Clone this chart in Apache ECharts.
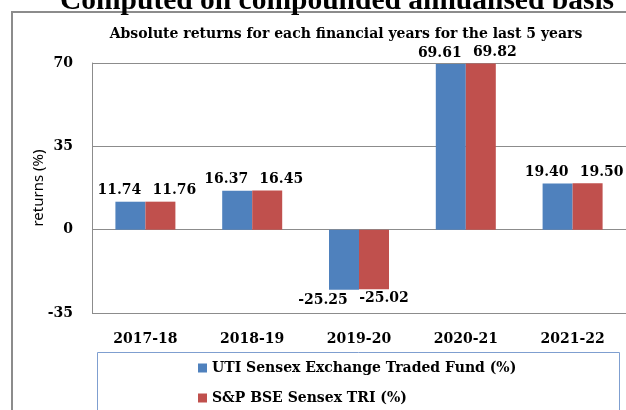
<!DOCTYPE html>
<html>
<head>
<meta charset="utf-8">
<script src="https://cdn.jsdelivr.net/npm/echarts@6/dist/echarts.min.js"></script>
<style>
  html, body { margin: 0; padding: 0; background: #fff; }
  #chart { width: 626px; height: 410px; }
</style>
</head>
<body>
<div id="chart"></div>
<script>
  var years = ['2017-18', '2018-19', '2019-20', '2020-21', '2021-22'];
  var fundReturns = [11.74, 16.37, -25.25, 69.61, 19.40];
  var indexReturns = [11.76, 16.45, -25.02, 69.82, 19.50];
  var seriesNames = ['UTI Sensex Exchange Traded Fund (%)', 'S&P BSE Sensex TRI (%)'];

  var serif = '"DejaVu Serif", serif';
  var legendText = { fontFamily: serif, fontWeight: 'bold', fontSize: 14, color: '#000' };

  // label nudges, like the Excel chart
  function items(values, posOff, negOff) {
    return values.map(function (v) {
      return {
        value: v,
        label: { offset: v < 0 ? negOff : posOff }
      };
    });
  }

  var chart = echarts.init(document.getElementById('chart'));
  chart.setOption({
    animation: false,
    title: [{
      text: 'Computed on compounded annualised basis',
      left: 332,
      top: -19,
      textAlign: 'center',
      textStyle: { fontFamily: '"Liberation Serif", serif', fontWeight: 'bold', fontSize: 29.5, color: '#000' }
    }, {
      text: 'Absolute returns for each financial years for the last 5 years',
      left: 341,
      top: 22,
      textAlign: 'center',
      textStyle: { fontFamily: serif, fontWeight: 'bold', fontSize: 14, color: '#000' }
    }],
    graphic: [{
      type: 'rect',
      shape: { x: 12, y: 12, width: 640, height: 420 },
      style: { fill: 'none', stroke: '#8c8c8c', lineWidth: 2 },
      z: -1
    }, {
      type: 'rect',
      shape: { x: 97.5, y: 352.5, width: 522, height: 80 },
      style: { fill: 'none', stroke: '#7f9fd0', lineWidth: 1 },
      z: -1
    }],
    legend: [{
      left: 193,
      top: 356,
      itemWidth: 9,
      itemHeight: 9,
      icon: 'rect',
      textStyle: legendText,
      data: [seriesNames[0]]
    }, {
      left: 193,
      top: 386,
      itemWidth: 9,
      itemHeight: 9,
      icon: 'rect',
      textStyle: legendText,
      data: [seriesNames[1]]
    }],
    grid: { left: 92, right: 0, top: 63, bottom: 97 },
    xAxis: {
      type: 'category',
      data: years,
      axisLine: { show: false },
      axisTick: { show: false },
      axisLabel: { margin: 19, fontFamily: serif, fontWeight: 'bold', fontSize: 14, color: '#000' }
    },
    yAxis: {
      type: 'value',
      min: -35,
      max: 70,
      interval: 35,
      name: 'returns (%)',
      nameLocation: 'middle',
      nameGap: 46,
      nameMoveOverlap: false,
      nameRotate: 90,
      nameTextStyle: { fontFamily: '"Noto Sans", sans-serif', fontSize: 15, color: '#000' },
      axisLine: { show: true, lineStyle: { color: '#8c8c8c' } },
      axisTick: { show: false },
      splitLine: { show: true, lineStyle: { color: '#8c8c8c', width: 1 } },
      axisLabel: { margin: 19, fontFamily: serif, fontWeight: 'bold', fontSize: 14, color: '#000' }
    },
    series: [{
      name: seriesNames[0],
      type: 'bar',
      barWidth: 30,
      barGap: '0%',
      itemStyle: { color: '#4F81BD' },
      label: {
        show: true,
        position: 'outside',
        distance: 4,
        formatter: function (p) { return p.value.toFixed(2); },
        fontFamily: serif, fontWeight: 'bold', fontSize: 14, color: '#000'
      },
      data: items(fundReturns, [-11, 0], [-21, 0])
    }, {
      name: seriesNames[1],
      type: 'bar',
      barWidth: 30,
      barGap: '0%',
      itemStyle: { color: '#C0504D' },
      label: {
        show: true,
        position: 'outside',
        distance: 4,
        formatter: function (p) { return p.value.toFixed(2); },
        fontFamily: serif, fontWeight: 'bold', fontSize: 14, color: '#000'
      },
      data: items(indexReturns, [14, 0], [10, -2])
    }]
  });
</script>
</body>
</html>
